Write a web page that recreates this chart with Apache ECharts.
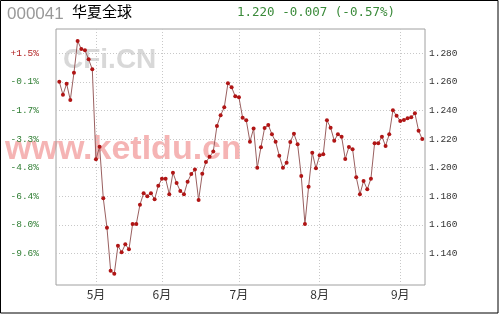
<!DOCTYPE html>
<html>
<head>
<meta charset="utf-8">
<script src="https://cdn.jsdelivr.net/npm/echarts@6/dist/echarts.min.js"></script>
<style>
html,body{margin:0;padding:0;background:#fff;}
#chart{width:499px;height:314px;}
</style>
</head>
<body>
<div id="chart"></div>
<script>
// Fund NAV per trading day (index 0..99)
const navValues = [
  1.2601, 1.2510, 1.2587, 1.2473, 1.2664, 1.2886, 1.2830, 1.2821, 1.2758, 1.2688,
  1.2059, 1.2147, 1.1786, 1.1580, 1.1280, 1.1259, 1.1455, 1.1408, 1.1464, 1.1429,
  1.1606, 1.1606, 1.1741, 1.1821, 1.1800, 1.1821, 1.1779, 1.1874, 1.1923, 1.1923,
  1.1814, 1.1965, 1.1893, 1.1837, 1.1814, 1.1902, 1.1956, 1.1987, 1.1774, 1.1958,
  1.2039, 1.2076, 1.2113, 1.2292, 1.2367, 1.2422, 1.2590, 1.2562, 1.2499, 1.2492,
  1.2350, 1.2331, 1.2182, 1.2274, 1.2000, 1.2143, 1.2278, 1.2299, 1.2234, 1.2182,
  1.2084, 1.2000, 1.2035, 1.2180, 1.2238, 1.2164, 1.1942, 1.1606, 1.1867, 1.2105,
  1.1996, 1.2087, 1.2094, 1.2331, 1.2280, 1.2189, 1.2234, 1.2217, 1.2061, 1.2145,
  1.2129, 1.1933, 1.1814, 1.1907, 1.1849, 1.1923, 1.2171, 1.2171, 1.2217, 1.2152,
  1.2234, 1.2401, 1.2364, 1.2327, 1.2334, 1.2345, 1.2352, 1.2380, 1.2259, 1.2200
];
const monthStartIdx = [10, 28, 49, 71, 93];
const monthLabels = ['5月', '6月', '7月', '8月', '9月'];
const yTicks = [1.14, 1.16, 1.18, 1.20, 1.22, 1.24, 1.26, 1.28];
const navLabels = ['1.140', '1.160', '1.180', '1.200', '1.220', '1.240', '1.260', '1.280'];
const pctLabels = ['-9.6%', '-8.0%', '-6.4%', '-4.8%', '-3.3%', '-1.7%', '-0.1%', '+1.5%'];
const fundCode = '000041';
const fundName = '华夏全球';
const quoteText = '1.220 -0.007 (-0.57%)';

const Y_MIN = 1.11797, Y_MAX = 1.29699;
const X_MIN = -0.9, X_MAX = 99.75;

function tickIndex(v) {
  for (let i = 0; i < yTicks.length; i++) if (Math.abs(yTicks[i] - v) < 1e-6) return i;
  return -1;
}

const chart = echarts.init(document.getElementById('chart'), null, {renderer: 'canvas'});
const monoFont = '"Liberation Mono", "DejaVu Sans Mono", monospace';
const gridLine = {show: true, lineStyle: {color: '#c8c8c8', type: [1, 2], width: 1}};

chart.setOption({
  animation: false,
  backgroundColor: '#fff',
  grid: {left: 56, right: 74, top: 29, bottom: 29, show: true, borderColor: '#a0a0a0', borderWidth: 1, backgroundColor: 'transparent'},
  xAxis: {
    type: 'value', min: X_MIN, max: X_MAX,
    axisLine: {show: false},
    axisTick: {show: false, customValues: monthStartIdx},
    splitLine: gridLine,
    axisLabel: {
      customValues: monthStartIdx,
      margin: 3,
      color: '#333', fontSize: 12,
      fontFamily: '"Noto Sans CJK SC", sans-serif',
      formatter: function (v) { const i = monthStartIdx.indexOf(Math.round(v)); return i >= 0 ? monthLabels[i] : ''; }
    }
  },
  yAxis: [{
    type: 'value', position: 'left', min: Y_MIN, max: Y_MAX,
    axisLine: {show: false},
    axisTick: {show: false, customValues: yTicks},
    splitLine: gridLine,
    axisLabel: {
      customValues: yTicks, margin: 17,
      fontFamily: monoFont, fontSize: 9.5,
      formatter: function (v) {
        const i = tickIndex(v); if (i < 0) return '';
        return (pctLabels[i].charAt(0) === '+' ? '{r|' : '{g|') + pctLabels[i] + '}';
      },
      rich: {
        r: {color: '#b22222', fontFamily: monoFont, fontSize: 9.5},
        g: {color: '#2e7d32', fontFamily: monoFont, fontSize: 9.5}
      }
    }
  }, {
    type: 'value', position: 'right', min: Y_MIN, max: Y_MAX,
    axisLine: {show: false},
    axisTick: {show: false, customValues: yTicks},
    splitLine: {show: false},
    axisLabel: {
      customValues: yTicks, margin: 4,
      fontFamily: monoFont, fontSize: 9.5, color: '#333',
      formatter: function (v) { const i = tickIndex(v); return i < 0 ? '' : navLabels[i]; }
    }
  }],
  graphic: [
    {type: 'rect', z: 100, silent: true, shape: {x: 0.5, y: 0.5, width: 497.5, height: 312.5}, style: {fill: 'none', stroke: '#000', lineWidth: 1}},
    {type: 'text', z: 10, left: 7, top: 6, style: {text: fundCode, fill: '#999', font: '17px "Liberation Sans", Arial, sans-serif'}},
    {type: 'text', z: 10, left: 72, top: 4, style: {text: fundName, fill: '#000', font: '15px "Noto Sans CJK SC", sans-serif'}},
    {type: 'text', z: 10, left: 237, top: 6, style: {text: quoteText, fill: '#3a8a3a', font: '12.5px "DejaVu Sans Mono", monospace'}},
    {type: 'text', z: -10, left: 63, top: 46, style: {text: 'CFi.CN', fill: 'rgba(200,200,200,0.7)', font: 'bold 28px "Liberation Sans", Arial, sans-serif'}},
    {type: 'text', z: -10, left: 5, top: 133, style: {text: 'www.ketldu.cn', fill: 'rgba(242,155,155,0.75)', font: 'bold 34px "Liberation Sans", Arial, sans-serif'}}
  ],
  series: [{
    type: 'line',
    xAxisIndex: 0, yAxisIndex: 1,
    data: navValues.map(function (v, i) { return [i, v]; }),
    symbol: 'circle', symbolSize: 4,
    showAllSymbol: true,
    lineStyle: {color: '#9a6060', width: 1},
    itemStyle: {color: '#b01515', borderWidth: 0},
    z: 5
  }]
});
</script>
</body>
</html>
